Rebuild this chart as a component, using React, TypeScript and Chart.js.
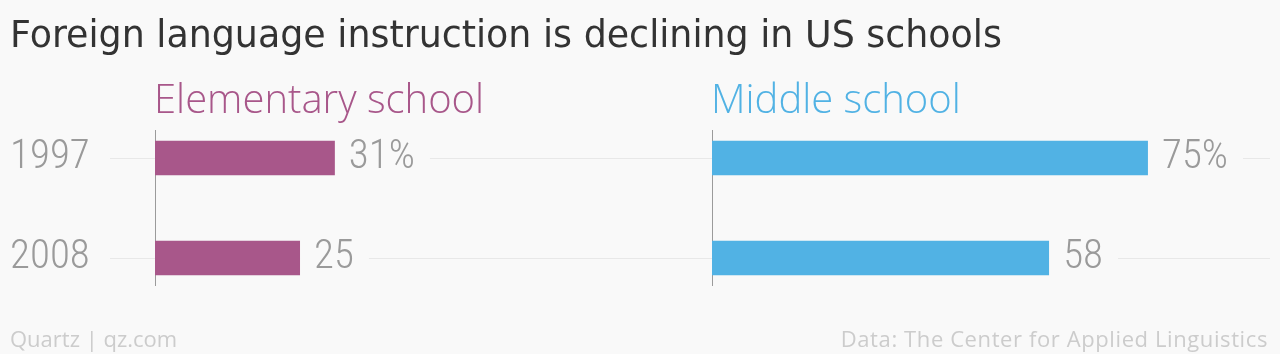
import React, { useEffect, useRef } from "react";
import { Chart, registerables } from "chart.js";

Chart.register(...registerables);

// ---- Data ----
const years = ["1997", "2008"];
const elementaryValues = [31, 25];
const middleValues = [75, 58];
const valueSuffixes = ["%", ""];
const panelTitles = ["Elementary school", "Middle school"];
const chartTitle = "Foreign language instruction is declining in US schools";
const footerLeft = "Quartz | qz.com";
const footerRight = "Data: The Center for Applied Linguistics";
const xMin = 0;
const xMax = 96;

// ---- Styles ----
const BG = "#f9f9f9";
const PINK = "#a8578a";
const BLUE = "#51b2e4";
const GREY_TEXT = "#9a9a9a";
const GRID = "#e8e8e8";
const AXIS = "#9b9b9b";
const NUM_FAMILY = '"Roboto Condensed", Roboto, sans-serif';
const NUM_WEIGHT = "300 condensed";
const NUM_SIZE = 41;
const SANS = '"Open Sans", "Noto Sans", sans-serif';
const TITLE_FONT = '"DejaVu Sans", sans-serif';

function valueLabelPlugin(values: number[]) {
  return {
    id: "valueLabels",
    afterDatasetsDraw(chart: any) {
      const ctx = chart.ctx;
      const meta = chart.getDatasetMeta(0);
      ctx.save();
      ctx.font = `${NUM_WEIGHT} ${NUM_SIZE}px ${NUM_FAMILY}`;
      try { ctx.fontStretch = "condensed"; } catch (e) {}
      ctx.textBaseline = "middle";
      ctx.textAlign = "left";
      meta.data.forEach((bar: any, i: number) => {
        const text = `${values[i]}${valueSuffixes[i] ?? ""}`;
        const w = ctx.measureText(text).width;
        ctx.fillStyle = BG;
        ctx.fillRect(bar.x, bar.y - 22, 14 + w + 15, 44);
        ctx.fillStyle = GREY_TEXT;
        ctx.fillText(text, bar.x + 14, bar.y);
      });
      ctx.restore();
    },
  };
}

function makeConfig(values: number[], color: string, withLabels: boolean): any {
  return {
    type: "bar",
    data: {
      datasets: [
        {
          data: values.map((v, i) => ({ x: v, y: i })),
          backgroundColor: color,
          borderWidth: 0,
          barThickness: 34,
        },
      ],
    },
    options: {
      indexAxis: "y",
      animation: false,
      responsive: false,
      maintainAspectRatio: false,
      layout: {
        padding: withLabels
          ? { left: 10, right: 0, top: 130, bottom: 69 }
          : { left: 0, right: 10, top: 130, bottom: 69 },
      },
      plugins: {
        legend: { display: false },
        title: { display: false },
        tooltip: { enabled: false },
      },
      scales: {
        x: {
          type: "linear",
          display: false,
          min: xMin,
          max: xMax,
        },
        y: {
          type: "linear",
          reverse: true,
          offset: false,
          bounds: "data",
          min: -0.28,
          max: 1.27,
          afterBuildTicks: (scale: any) => {
            scale.ticks = years.map((_, i) => ({ value: i }));
          },
          afterFit: (scale: any) => {
            scale.width = withLabels ? 145 : 0;
          },
          grid: {
            offset: false,
            color: GRID,
            lineWidth: 1,
            drawTicks: withLabels,
            tickLength: 45,
            tickColor: GRID,
          },
          border: { display: true, color: AXIS, width: 1 },
          ticks: {
            display: withLabels,
            crossAlign: "far",
            padding: 10,
            color: GREY_TEXT,
            font: { family: NUM_FAMILY, size: NUM_SIZE, weight: NUM_WEIGHT },
            callback: (v: any) => years[v] ?? "",
          },
        },
      },
    },
    plugins: [valueLabelPlugin(values)],
  };
}

function BarPanel(props: { values: number[]; color: string; withLabels: boolean; left: number; width: number }) {
  const ref = useRef<HTMLCanvasElement | null>(null);
  useEffect(() => {
    if (!ref.current) return;
    const chart = new Chart(ref.current, makeConfig(props.values, props.color, props.withLabels));
    return () => chart.destroy();
  }, []);
  return (
    <canvas
      ref={ref}
      width={props.width}
      height={354}
      style={{ position: "absolute", left: props.left, top: 0, width: props.width, height: 354 }}
    />
  );
}

export default function App() {
  useEffect(() => {
    document.body.style.margin = "0";
    document.body.style.background = BG;
  }, []);
  return (
    <div style={{ position: "relative", width: 1280, height: 354, background: BG, overflow: "hidden" }}>
      <BarPanel values={elementaryValues} color={PINK} withLabels={true} left={0} width={712} />
      <BarPanel values={middleValues} color={BLUE} withLabels={false} left={712} width={568} />
      <div
        style={{
          position: "absolute", left: 10, top: 17, fontFamily: TITLE_FONT, fontSize: 36.4, lineHeight: "36.4px",
          color: "#333333", whiteSpace: "nowrap",
        }}
      >
        {chartTitle}
      </div>
      <div
        style={{
          position: "absolute", left: 154, top: 77.5, fontFamily: SANS, fontSize: 40, fontWeight: 300,
          lineHeight: "40px", color: PINK, whiteSpace: "nowrap",
        }}
      >
        {panelTitles[0]}
      </div>
      <div
        style={{
          position: "absolute", left: 711, top: 77.5, fontFamily: SANS, fontSize: 40, fontWeight: 300,
          lineHeight: "40px", color: BLUE, whiteSpace: "nowrap",
        }}
      >
        {panelTitles[1]}
      </div>
      <div
        style={{
          position: "absolute", left: 10, top: 326.5, fontFamily: SANS, fontSize: 22, lineHeight: "22px",
          color: "#cccccc", whiteSpace: "nowrap",
        }}
      >
        {footerLeft}
      </div>
      <div
        style={{
          position: "absolute", right: 12, top: 326.5, fontFamily: SANS, fontSize: 22, lineHeight: "22px",
          letterSpacing: 0.6, color: "#cccccc", whiteSpace: "nowrap",
        }}
      >
        {footerRight}
      </div>
    </div>
  );
}
